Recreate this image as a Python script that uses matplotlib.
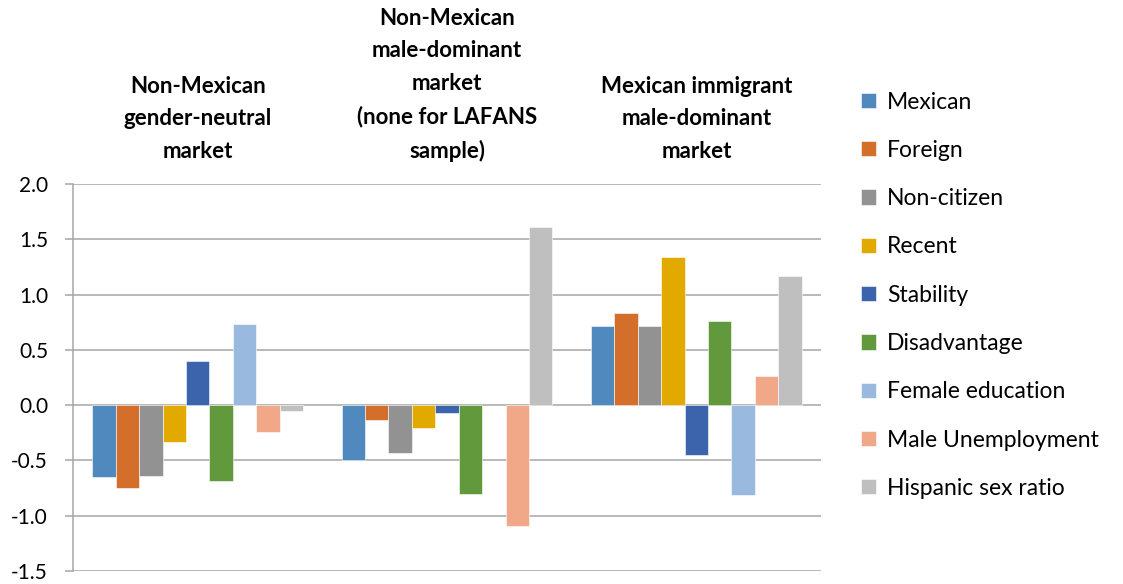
import numpy as np
import matplotlib
matplotlib.use("Agg")
import matplotlib.pyplot as plt
import matplotlib.transforms as mtransforms

plt.rcParams['font.family'] = ['Lato', 'DejaVu Sans']

# market groups (shown as titles above each group)
groups = ["Non-Mexican\ngender-neutral\nmarket",
          "Non-Mexican\nmale-dominant\nmarket\n(none for LAFANS\nsample)",
          "Mexican immigrant\nmale-dominant\nmarket"]

series = ["Mexican", "Foreign", "Non-citizen", "Recent", "Stability",
          "Disadvantage", "Female education", "Male Unemployment",
          "Hispanic sex ratio"]

# values per group, one list per series
mexican = [-0.65, -0.50, 0.72]
foreign = [-0.75, -0.13, 0.83]
non_citizen = [-0.64, -0.43, 0.72]
recent = [-0.33, -0.21, 1.34]
stability = [0.40, -0.07, -0.45]
disadvantage = [-0.69, -0.80, 0.76]
female_edu = [0.73, np.nan, -0.81]
male_unemp = [-0.24, -1.09, 0.26]
hisp_ratio = [-0.05, 1.61, 1.17]

values = [mexican, foreign, non_citizen, recent, stability,
          disadvantage, female_edu, male_unemp, hisp_ratio]

colors = ["#4F89BD", "#D46E2B", "#929292", "#E2AA00", "#3C64AD",
          "#63993D", "#99B9DF", "#F1A889", "#BFBFBF"]

yticks = [-1.5, -1.0, -0.5, 0.0, 0.5, 1.0, 1.5, 2.0]

fig = plt.figure(figsize=(11.23, 5.84), dpi=100)
ax = fig.add_axes([73/1123, 13/584, 748/1123, 387/584])

x = np.arange(len(groups))
w = 0.094
for i, (name, vals) in enumerate(zip(series, values)):
    pos = x + (i - 4) * w
    ax.bar(pos, vals, width=w, color=colors[i], label=name,
           edgecolor="white", linewidth=0.4, zorder=3)

ax.set_xlim(-0.5, 2.5)
ax.set_ylim(-1.5, 2.0)
ax.set_yticks(yticks)
ax.set_yticklabels([f"{t:.1f}" for t in yticks], fontsize=15)
ax.set_xticks([])
ax.grid(axis="y", color="#A6A6A6", linewidth=1.1, zorder=0)
for s in ["top", "right", "bottom"]:
    ax.spines[s].set_visible(False)
ax.spines["left"].set_color("#A6A6A6")
ax.spines["left"].set_linewidth(1.1)
ax.tick_params(axis="y", color="#A6A6A6", length=6, width=1.1, pad=12)

# group titles above the plot
trans = mtransforms.blended_transform_factory(ax.transData, fig.transFigure)
for xi, g in zip(x, groups):
    ax.text(xi, (584 - 162) / 584, g, transform=trans, ha="center",
            va="bottom", fontsize=16, fontweight="bold", linespacing=1.68)

fig.legend(loc="upper left", bbox_to_anchor=(840/1123, 1 - 71/584),
           frameon=False, fontsize=16.5, handlelength=0.65, handleheight=0.65,
           handletextpad=0.5, labelspacing=1.19)

fig.savefig("out.png", dpi=100)
